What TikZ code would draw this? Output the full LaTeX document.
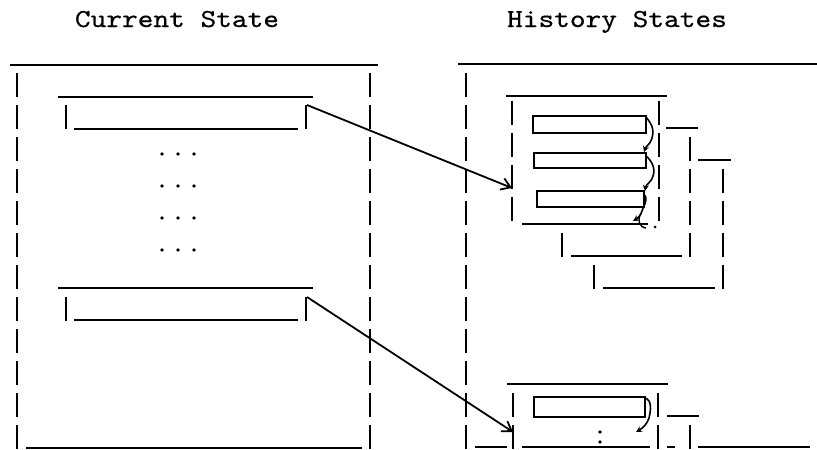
\documentclass[tikz,border=0pt]{standalone}
\usepackage{fontspec}
\newfontfamily\typewriter{lmmono10-regular.otf}[FakeBold=0.5,FakeStretch=1.15]
\usetikzlibrary{arrows.meta}
\begin{document}
\begin{tikzpicture}[x=1pt,y=-1pt,
  rule/.style={line width=1.8pt},
  bars/.style={line width=2pt, dash pattern=on 24pt off 8pt},
  entry/.style={line width=2.2pt},
  link/.style={line width=1.8pt, -{Straight Barb[length=9pt,width=12pt,line width=1.8pt]}},
  chain/.style={line width=1.6pt, -{Stealth[length=6pt,width=6pt]}},
  dot/.style={circle, fill, inner sep=0pt, minimum size=3.6pt},
  title/.style={anchor=base, inner sep=0pt, font=\fontsize{26}{28}\selectfont\typewriter}]
\useasboundingbox (0,0) rectangle (817,450);

% headings
\node[title] (cur) at (177,27) {Current State};
\node[title] (his) at (617,27) {History States};

% ---- current state frame ----
\draw[rule] (10,65) -- (378,65);
\draw[bars] (17,73) -- (17,449);
\draw[bars] (370,73) -- (370,449);
\draw[rule] (26,448) -- (362,448);

% first record
\draw[rule] (58,97) -- (313,97);
\draw[bars] (66,105) -- (66,129);
\draw[rule] (74,129) -- (298,129);
\draw[bars] (306,105) -- (306,129);
\coordinate (recA) at (307,105);

% elided records
\foreach \yy in {154,186,218,250}
  \foreach \xx in {162,178,194}
    \node[dot] at (\xx,\yy) {};

% last record
\draw[rule] (58,288) -- (313,288);
\draw[bars] (66,297) -- (66,321);
\draw[rule] (74,320) -- (298,320);
\draw[bars] (306,297) -- (306,321);
\coordinate (recB) at (307,297);

% ---- history states frame ----
\draw[rule] (458,64) -- (817,64);
\draw[bars] (466,73) -- (466,449);

% stacked history of the first record
\draw[rule] (506,96) -- (667,96);
\draw[bars] (512,101) -- (512,225);
\draw[bars] (659,101) -- (659,225);
\draw[rule] (522,224) -- (648,224);
\coordinate (histA) at (512,188);

\draw[rule] (666,128) -- (698,128);
\draw[bars] (690,137) -- (690,257);
\draw[bars] (562,233) -- (562,257);
\draw[rule] (571,256) -- (682,256);

\draw[rule] (698,160) -- (731,160);
\draw[bars] (723,169) -- (723,289);
\draw[bars] (594,265) -- (594,289);
\draw[rule] (603,288) -- (715,288);

% entries chained together
\draw[entry] (533,116) rectangle (646,133);
\draw[entry] (534,153) rectangle (646,168);
\draw[entry] (537,191) rectangle (644,207);
\draw[chain] (646,117) .. controls (650,122) and (655,128) .. (652,138)
  .. controls (650,145) and (646,146) .. (644,152);
\draw[chain] (646,156) .. controls (651,160) and (656,168) .. (653,176)
  .. controls (651,183) and (646,184) .. (645,191);
\draw[chain] (645,195) .. controls (648,202) and (643,206) .. (642,211)
  .. controls (641,215) and (638,218) .. (633,221);
\draw[line width=1.4pt] (641,213) .. controls (637,220) and (639,227) .. (646,228);
\node[dot, minimum size=3pt] at (655,227) {};

% history of the last record
\draw[rule] (507,384) -- (668,384);
\draw[bars] (513,393) -- (513,449);
\draw[bars] (658,393) -- (658,449);
\draw[rule] (667,416) -- (699,416);
\draw[bars] (690,425) -- (690,449);
\coordinate (histB) at (513,432);

\draw[entry] (534,397) rectangle (645,417);
\draw[chain] (645,398) .. controls (652,400) and (651,410) .. (649,418)
  .. controls (647,424) and (643,428) .. (636,432);
\node[dot] at (600,432) {};
\node[dot] at (600,442) {};

\draw[rule] (475,447) -- (507,447);
\draw[rule] (522,447) -- (650,447);
\draw[rule] (667,447) -- (675,447);
\draw[rule] (698,447) -- (810,447);

% pointers from current records to their histories
\draw[link] (recA) -- (histA);
\draw[link] (recB) -- (histB);
\end{tikzpicture}
\end{document}
